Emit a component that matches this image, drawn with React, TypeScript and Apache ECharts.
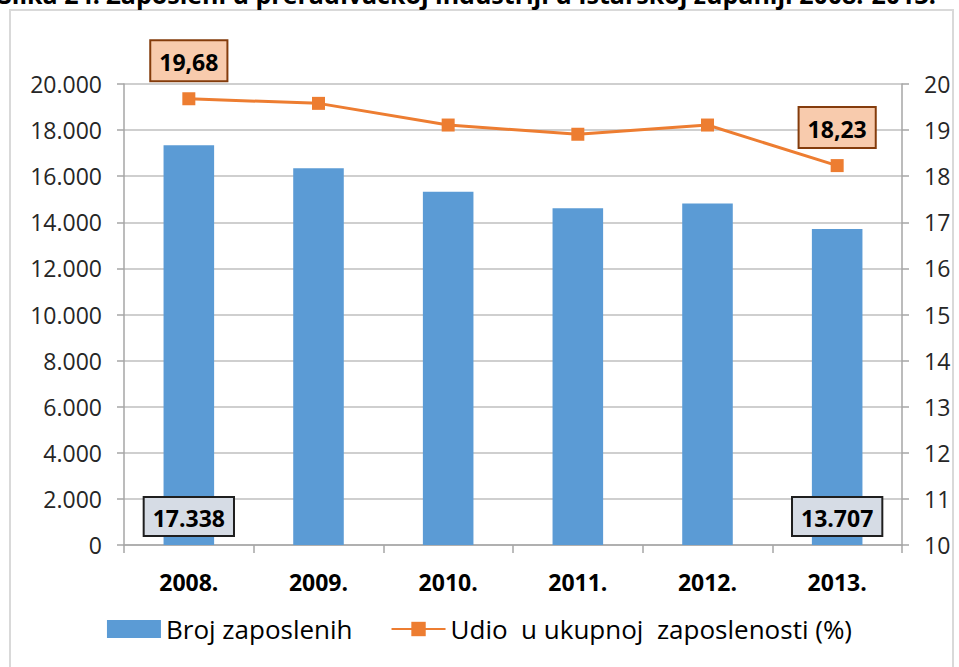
import React, { useEffect, useRef } from "react";
import * as echarts from "echarts";

const categories = ["2008.", "2009.", "2010.", "2011.", "2012.", "2013."];
const employed = [17338, 16340, 15330, 14610, 14820, 13707];
const sharePct = [19.68, 19.58, 19.11, 18.91, 19.11, 18.23];
const leftTicks = { min: 0, max: 20000, interval: 2000 };
const rightTicks = { min: 10, max: 20, interval: 1 };
const titleText = "Slika 24. Zaposleni u prerađivačkoj industriji u Istarskoj županiji 2008.-2013.";
const seriesNames = ["Broj zaposlenih", "Udio  u ukupnoj  zaposlenosti (%)"];

const FONT = "'Open Sans', 'Noto Sans', sans-serif";

export default function App() {
  const ref = useRef<HTMLDivElement>(null);
  useEffect(() => {
    if (!ref.current) return;
    const chart = echarts.init(ref.current, null, { renderer: "svg" });
    const lastIdx = employed.length - 1;
    const barData = employed.map((v, i) => ({
      value: v,
      label: { show: i === 0 || i === lastIdx },
    }));
    const lineData = sharePct.map((v, i) => ({
      value: v,
      label: { show: i === 0 || i === lastIdx },
    }));
    chart.setOption({
      animation: false,
      backgroundColor: "#ffffff",
      textStyle: { fontFamily: FONT },
      graphic: [
        {
          type: "rect",
          shape: { x: 10, y: 10, width: 943, height: 700 },
          style: { fill: "none", stroke: "#d9d9d9", lineWidth: 2 },
          silent: true,
        },
        {
          type: "text",
          x: -2,
          y: 6,
          style: {
            text: titleText,
            font: `bold 25px ${FONT}`,
            fill: "#000",
            verticalAlign: "bottom",
            align: "left",
          },
          silent: true,
        },
      ],
      grid: { left: 124, right: 57, top: 84, bottom: 122 },
      legend: {
        bottom: 20,
        left: "center",
        itemWidth: 54,
        itemHeight: 18,
        itemGap: 38,
        textStyle: { fontSize: 26, color: "#000", fontFamily: FONT },
        data: [
          { name: seriesNames[0], icon: "rect" },
          { name: seriesNames[1] },
        ],
      },
      xAxis: {
        type: "category",
        data: categories,
        axisLine: { lineStyle: { color: "#a6a6a6", width: 1.5 } },
        axisTick: { show: true, length: 8, lineStyle: { color: "#a6a6a6", width: 1.5 } },
        axisLabel: { fontSize: 23, fontWeight: "bold", color: "#000", margin: 25, fontFamily: FONT },
      },
      yAxis: [
        {
          type: "value",
          min: leftTicks.min,
          max: leftTicks.max,
          interval: leftTicks.interval,
          axisLine: { show: true, lineStyle: { color: "#a6a6a6", width: 1.5 } },
          axisTick: { show: true, length: 7, lineStyle: { color: "#a6a6a6", width: 1.5 } },
          splitLine: { lineStyle: { color: "#bfbfbf", width: 1.5 } },
          axisLabel: {
            fontSize: 23,
            color: "#262626",
            margin: 22,
            fontFamily: FONT,
            formatter: (v: number) => v.toLocaleString("de-DE"),
          },
        },
        {
          type: "value",
          min: rightTicks.min,
          max: rightTicks.max,
          interval: rightTicks.interval,
          position: "right",
          axisLine: { show: true, lineStyle: { color: "#a6a6a6", width: 1.5 } },
          axisTick: { show: true, length: 7, lineStyle: { color: "#a6a6a6", width: 1.5 } },
          splitLine: { show: false },
          axisLabel: { fontSize: 23, color: "#262626", margin: 22, fontFamily: FONT },
        },
      ],
      series: [
        {
          name: seriesNames[0],
          type: "bar",
          yAxisIndex: 0,
          barWidth: "39%",
          itemStyle: { color: "#5b9bd5" },
          data: barData,
          label: {
            position: "insideBottom",
            distance: 10,
            formatter: (p: any) => Number(p.value).toLocaleString("de-DE"),
            fontSize: 23,
            fontWeight: "bold",
            color: "#000",
            fontFamily: FONT,
            backgroundColor: "#d6dce5",
            borderColor: "#1f1f1f",
            borderWidth: 2,
            padding: [8, 8, 6, 8],
          },
        },
        {
          name: seriesNames[1],
          type: "line",
          yAxisIndex: 1,
          symbol: "rect",
          symbolSize: 13,
          lineStyle: { color: "#ed7d31", width: 3 },
          itemStyle: { color: "#ed7d31" },
          data: lineData,
          label: {
            position: "top",
            distance: 12,
            formatter: (p: any) => Number(p.value).toFixed(2).replace(".", ","),
            fontSize: 23,
            fontWeight: "bold",
            color: "#000",
            fontFamily: FONT,
            backgroundColor: "#f8cbad",
            borderColor: "#843c0c",
            borderWidth: 2,
            padding: [9, 8, 7, 8],
          },
        },
      ],
    });
    return () => chart.dispose();
  }, []);
  return (
    <div
      ref={ref}
      style={{ position: "absolute", left: 0, top: 0, width: 959, height: 667 }}
    />
  );
}
